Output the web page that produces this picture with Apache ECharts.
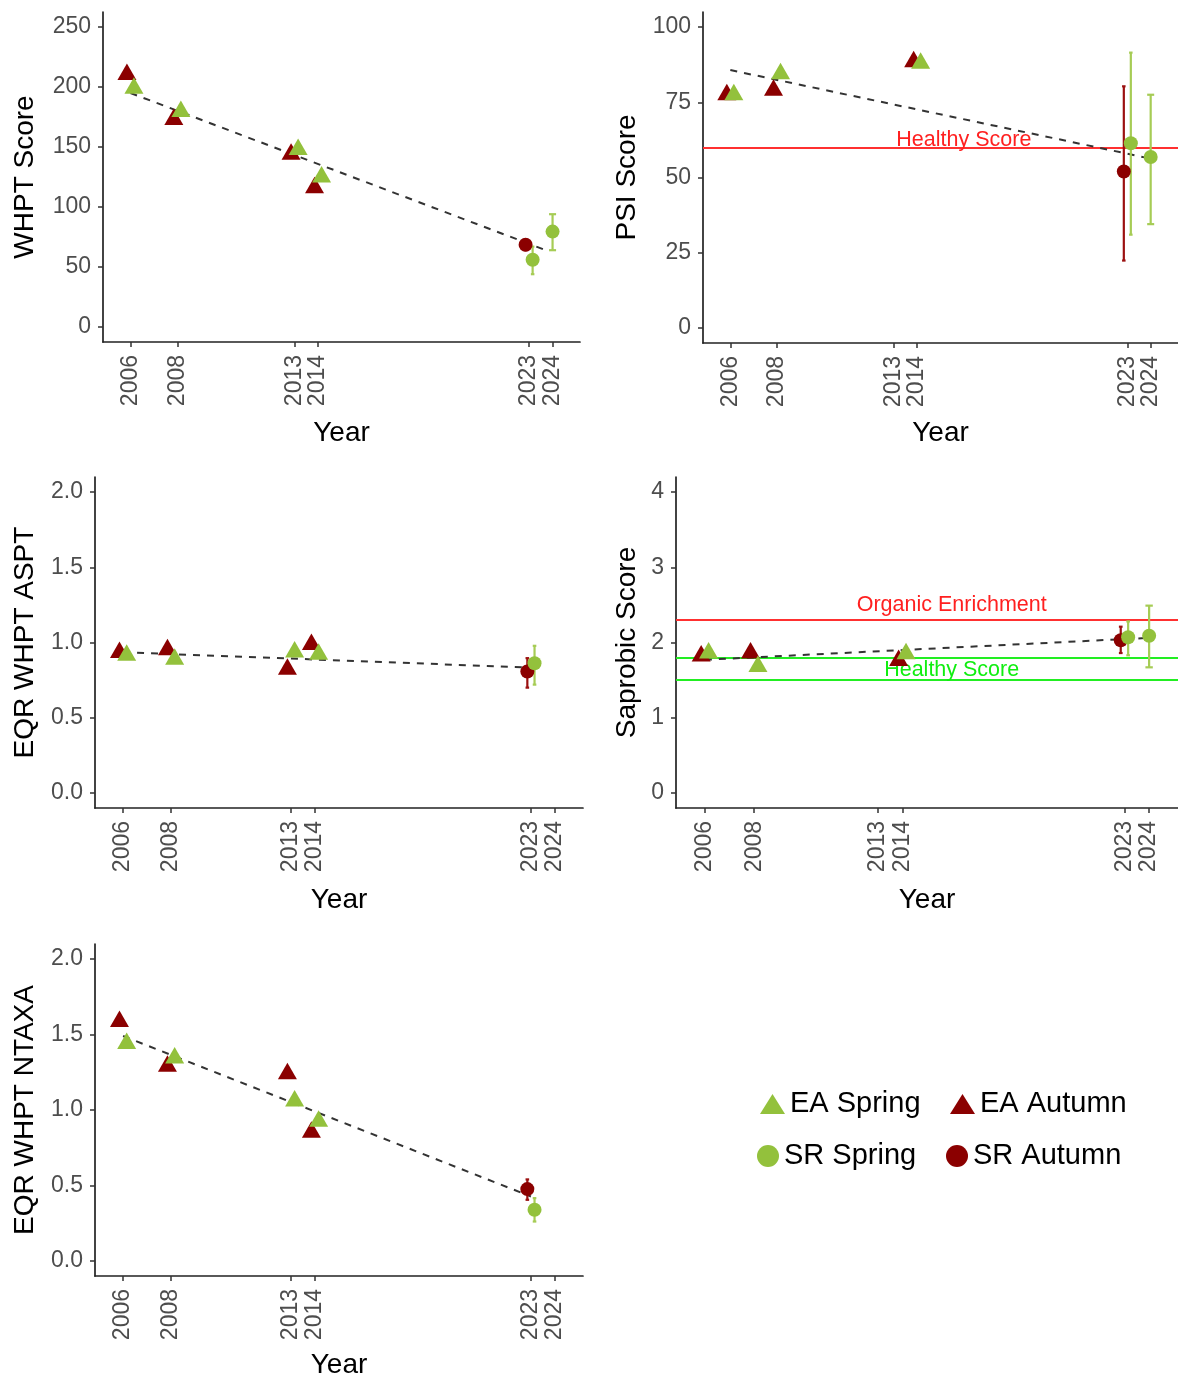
<!DOCTYPE html>
<html>
<head>
<meta charset="utf-8">
<script src="https://cdn.jsdelivr.net/npm/echarts@6/dist/echarts.min.js"></script>
<style>
html,body{margin:0;padding:0;background:#fff;}
#c{width:1178px;height:1380px;}
</style>
</head>
<body>
<div id="c"></div>
<script>
// ---------------- DATA ----------------
const yearTicks = [2006, 2008, 2013, 2014, 2023, 2024];
const eaYears = [2006, 2008, 2013, 2014];
const srYears = [2023, 2024];

// WHPT Score
const whptEASpring = [199, 179.5, 148, 125];
const whptEAAutumn = [210.5, 173, 144, 116];
const whptSRSpring = [56, 79.5];
const whptSRSpringLo = [44, 64];
const whptSRSpringHi = [67, 94];
const whptSRAutumn = [68.5, null];
const whptSRAutumnLo = [64, null];
const whptSRAutumnHi = [73, null];
const whptTrendYears = [2006, 2023.85];
const whptTrend = [195, 63];
const whptTicks = [0, 50, 100, 150, 200, 250];

// PSI Score
const psiEASpring = [77.5, 84.5, null, 88];
const psiEAAutumn = [77.5, 79, null, 88.5];
const psiSRSpring = [61.4, 56.8];
const psiSRSpringLo = [31, 34.5];
const psiSRSpringHi = [91.5, 77.5];
const psiSRAutumn = [52, null];
const psiSRAutumnLo = [22.4, null];
const psiSRAutumnHi = [80.3, null];
const psiTrendYears = [2006, 2023.8];
const psiTrend = [85.7, 56.6];
const psiTicks = [0, 25, 50, 75, 100];
const psiHealthy = 60;

// EQR WHPT ASPT
const asptEASpring = [0.915, 0.889, 0.937, 0.922];
const asptEAAutumn = [0.933, 0.951, 0.822, 0.987];
const asptSRSpring = [0.862, null];
const asptSRSpringLo = [0.72, null];
const asptSRSpringHi = [0.978, null];
const asptSRAutumn = [0.807, null];
const asptSRAutumnLo = [0.70, null];
const asptSRAutumnHi = [0.896, null];
const asptTrendYears = [2006, 2023];
const asptTrend = [0.935, 0.833];
const eqrTicks = [0, 0.5, 1.0, 1.5, 2.0];

// Saprobic Score
const sapEASpring = [1.86, 1.68, null, 1.85];
const sapEAAutumn = [1.82, 1.86, null, 1.76];
const sapSRSpring = [2.07, 2.09];
const sapSRSpringLo = [1.83, 1.67];
const sapSRSpringHi = [2.28, 2.49];
const sapSRAutumn = [2.03, null];
const sapSRAutumnLo = [1.86, null];
const sapSRAutumnHi = [2.21, null];
const sapTrendYears = [2006, 2023.9];
const sapTrend = [1.77, 2.06];
const sapTicks = [0, 1, 2, 3, 4];
const sapOrganic = 2.3;
const sapHealthyHigh = 1.8;
const sapHealthyLow = 1.5;

// EQR WHPT NTAXA
const ntaxaEASpring = [1.44, 1.345, 1.06, 0.926];
const ntaxaEAAutumn = [1.586, 1.29, 1.24, 0.853];
const ntaxaSRSpring = [0.339, null];
const ntaxaSRSpringLo = [0.261, null];
const ntaxaSRSpringHi = [0.416, null];
const ntaxaSRAutumn = [0.476, null];
const ntaxaSRAutumnLo = [0.405, null];
const ntaxaSRAutumnHi = [0.54, null];
const ntaxaTrendYears = [2006, 2023];
const ntaxaTrend = [1.49, 0.427];

// ---------------- STYLE ----------------
const GREEN = '#93c13c';
const RED = '#8b0000';
const FONT = 'Liberation Sans, Arial, sans-serif';
const X_MIN = 2004.83, X_MAX = 2025.17;
const DODGE = 0.15;

const panels = [
  {name:'WHPT Score', grid:{left:103, top:12, width:477, height:330}, yMin:-12.5, yMax:262.5, yTicks:whptTicks, dec:0, yGap:64, xGap:77,
   eaS:whptEASpring, eaA:whptEAAutumn, srS:whptSRSpring, srSLo:whptSRSpringLo, srSHi:whptSRSpringHi,
   srA:whptSRAutumn, srALo:whptSRAutumnLo, srAHi:whptSRAutumnHi, trendX:whptTrendYears, trend:whptTrend,
   hlines:[], notes:[]},
  {name:'PSI Score', grid:{left:703, top:12, width:479, height:331}, yMin:-5, yMax:105, yTicks:psiTicks, dec:0, yGap:62, xGap:76,
   eaS:psiEASpring, eaA:psiEAAutumn, srS:psiSRSpring, srSLo:psiSRSpringLo, srSHi:psiSRSpringHi,
   srA:psiSRAutumn, srALo:psiSRAutumnLo, srAHi:psiSRAutumnHi, trendX:psiTrendYears, trend:psiTrend,
   hlines:[{y:psiHealthy, color:'#ff3030'}], notes:[{text:'Healthy Score', x:2016, y:62.6, color:'#ff2020'}]},
  {name:'EQR WHPT ASPT', grid:{left:95, top:477, width:488, height:331}, yMin:-0.1, yMax:2.1, yTicks:eqrTicks, dec:1, yGap:56, xGap:78,
   eaS:asptEASpring, eaA:asptEAAutumn, srS:asptSRSpring, srSLo:asptSRSpringLo, srSHi:asptSRSpringHi,
   srA:asptSRAutumn, srALo:asptSRAutumnLo, srAHi:asptSRAutumnHi, trendX:asptTrendYears, trend:asptTrend,
   hlines:[], notes:[]},
  {name:'Saprobic Score', grid:{left:676, top:477, width:508, height:331}, yMin:-0.2, yMax:4.2, yTicks:sapTicks, dec:0, yGap:35, xGap:78,
   eaS:sapEASpring, eaA:sapEAAutumn, srS:sapSRSpring, srSLo:sapSRSpringLo, srSHi:sapSRSpringHi,
   srA:sapSRAutumn, srALo:sapSRAutumnLo, srAHi:sapSRAutumnHi, trendX:sapTrendYears, trend:sapTrend,
   hlines:[{y:sapOrganic, color:'#ff3030'}, {y:sapHealthyHigh, color:'#22ee22'}, {y:sapHealthyLow, color:'#22ee22'}],
   notes:[{text:'Organic Enrichment', x:2016, y:2.5, color:'#ff2020'}, {text:'Healthy Score', x:2016, y:1.63, color:'#10ee10'}]},
  {name:'EQR WHPT NTAXA', grid:{left:95, top:944, width:488, height:333}, yMin:-0.1, yMax:2.1, yTicks:eqrTicks, dec:1, yGap:56, xGap:75,
   eaS:ntaxaEASpring, eaA:ntaxaEAAutumn, srS:ntaxaSRSpring, srSLo:ntaxaSRSpringLo, srSHi:ntaxaSRSpringHi,
   srA:ntaxaSRAutumn, srALo:ntaxaSRAutumnLo, srAHi:ntaxaSRAutumnHi, trendX:ntaxaTrendYears, trend:ntaxaTrend,
   hlines:[], notes:[]}
];

function pairOffsets(years, a, b) {
  return years.map((y, i) => (a[i] != null && b[i] != null) ? [DODGE, -DODGE] : [0, 0]);
}

const grids = [], xAxes = [], yAxes = [], series = [];
const TRI = [19, 16.5];

panels.forEach((p, i) => {
  grids.push(Object.assign({containLabel:false}, p.grid));
  xAxes.push({
    type:'value', gridIndex:i, min:X_MIN, max:X_MAX,
    axisLine:{show:true, onZero:false, lineStyle:{color:'#222', width:1.7}},
    axisTick:{show:true, customValues:yearTicks, length:5, lineStyle:{color:'#333', width:1.5}},
    axisLabel:{show:true, customValues:yearTicks, rotate:90, fontSize:23, color:'#4d4d4d', fontFamily:FONT, margin:13,
               formatter:v => String(Math.round(v))},
    splitLine:{show:false},
    name:'Year', nameLocation:'middle', nameGap:p.xGap, nameMoveOverlap:false,
    nameTextStyle:{fontSize:28, color:'#000', fontFamily:FONT}
  });
  yAxes.push({
    type:'value', gridIndex:i, min:p.yMin, max:p.yMax,
    axisLine:{show:true, onZero:false, lineStyle:{color:'#222', width:1.7}},
    axisTick:{show:true, customValues:p.yTicks, length:5, lineStyle:{color:'#333', width:1.5}},
    axisLabel:{show:true, customValues:p.yTicks, fontSize:23, color:'#4d4d4d', fontFamily:FONT, margin:12,
               formatter:v => Number(v).toFixed(p.dec)},
    splitLine:{show:false},
    name:p.name, nameLocation:'middle', nameGap:p.yGap, nameRotate:90, nameMoveOverlap:false,
    nameTextStyle:{fontSize:28, color:'#000', fontFamily:FONT}
  });

  series.push({
    type:'line', xAxisIndex:i, yAxisIndex:i, z:3, silent:true, symbol:'none',
    data:p.trendX.map((x, k) => [x, p.trend[k]]),
    lineStyle:{color:'#333', width:2, type:[7, 7]},
    markLine:{silent:true, symbol:'none', z:2, label:{show:false}, animation:false,
      data:p.hlines.map(h => ({yAxis:h.y, lineStyle:{color:h.color, width:2, type:'solid'}}))}
  });

  if (p.notes.length) {
    series.push({
      type:'custom', xAxisIndex:i, yAxisIndex:i, z:2, silent:true,
      data:p.notes.map(n => [n.x, n.y]),
      renderItem:(params, api) => {
        const n = p.notes[params.dataIndex];
        const pt = api.coord([api.value(0), api.value(1)]);
        return {type:'text', x:pt[0], y:pt[1], style:{text:n.text, fill:n.color, fontSize:21.5, fontFamily:FONT, align:'center', verticalAlign:'middle'}};
      }
    });
  }

  const srOff = pairOffsets(srYears, p.srS, p.srA);
  const errData = [];
  srYears.forEach((y, k) => {
    const paired = srOff[k][0] !== 0;
    const cap = paired ? 0.075 : 0.15;
    if (p.srA[k] != null) errData.push([y + srOff[k][1], p.srALo[k], p.srAHi[k], cap, 1]);
    if (p.srS[k] != null) errData.push([y + srOff[k][0], p.srSLo[k], p.srSHi[k], cap, 0]);
  });
  series.push({
    type:'custom', xAxisIndex:i, yAxisIndex:i, z:4, silent:true,
    data:errData,
    renderItem:(params, api) => {
      const x = api.value(0), lo = api.value(1), hi = api.value(2), cap = api.value(3);
      const col = api.value(4) === 1 ? '#9b1010' : '#a6cc55';
      const top = api.coord([x, hi]), bot = api.coord([x, lo]);
      const xl = api.coord([x - cap, lo])[0], xr = api.coord([x + cap, lo])[0];
      const st = {stroke:col, lineWidth:2.2};
      return {type:'group', children:[
        {type:'line', shape:{x1:top[0], y1:top[1], x2:bot[0], y2:bot[1]}, style:st},
        {type:'line', shape:{x1:xl, y1:top[1], x2:xr, y2:top[1]}, style:st},
        {type:'line', shape:{x1:xl, y1:bot[1], x2:xr, y2:bot[1]}, style:st}
      ]};
    }
  });

  const eaOff = pairOffsets(eaYears, p.eaS, p.eaA);
  series.push({
    name:'EA Autumn', type:'scatter', xAxisIndex:i, yAxisIndex:i, z:5, silent:true,
    symbol:'triangle', symbolSize:TRI, symbolOffset:[0, -TRI[1] / 6],
    itemStyle:{color:RED, opacity:1},
    data:eaYears.map((y, k) => p.eaA[k] == null ? null : [y + eaOff[k][1], p.eaA[k]]).filter(d => d)
  });
  series.push({
    name:'EA Spring', type:'scatter', xAxisIndex:i, yAxisIndex:i, z:6, silent:true,
    symbol:'triangle', symbolSize:TRI, symbolOffset:[0, -TRI[1] / 6],
    itemStyle:{color:GREEN, opacity:1},
    data:eaYears.map((y, k) => p.eaS[k] == null ? null : [y + eaOff[k][0], p.eaS[k]]).filter(d => d)
  });
  series.push({
    name:'SR Autumn', type:'scatter', xAxisIndex:i, yAxisIndex:i, z:5, silent:true,
    symbol:'circle', symbolSize:14,
    itemStyle:{color:RED, opacity:1},
    data:srYears.map((y, k) => p.srA[k] == null ? null : [y + srOff[k][1], p.srA[k]]).filter(d => d)
  });
  series.push({
    name:'SR Spring', type:'scatter', xAxisIndex:i, yAxisIndex:i, z:6, silent:true,
    symbol:'circle', symbolSize:14,
    itemStyle:{color:GREEN, opacity:1},
    data:srYears.map((y, k) => p.srS[k] == null ? null : [y + srOff[k][0], p.srS[k]]).filter(d => d)
  });
});

const legendBase = {orient:'horizontal', padding:0, selectedMode:false,
  textStyle:{fontSize:29, color:'#000', fontFamily:FONT, lineHeight:32}};
const legends = [
  Object.assign({}, legendBase, {left:760, top:1088, itemWidth:25, itemHeight:20, data:[{name:'EA Spring', icon:'triangle'}]}),
  Object.assign({}, legendBase, {left:950, top:1088, itemWidth:25, itemHeight:20, data:[{name:'EA Autumn', icon:'triangle'}]}),
  Object.assign({}, legendBase, {left:757, top:1140, itemWidth:22, itemHeight:22, data:[{name:'SR Spring', icon:'circle'}]}),
  Object.assign({}, legendBase, {left:946, top:1140, itemWidth:22, itemHeight:22, data:[{name:'SR Autumn', icon:'circle'}]})
];

const chart = echarts.init(document.getElementById('c'), null, {renderer:'canvas'});
chart.setOption({
  backgroundColor:'#fff',
  animation:false,
  grid:grids, xAxis:xAxes, yAxis:yAxes, series:series, legend:legends
});
</script>
</body>
</html>
